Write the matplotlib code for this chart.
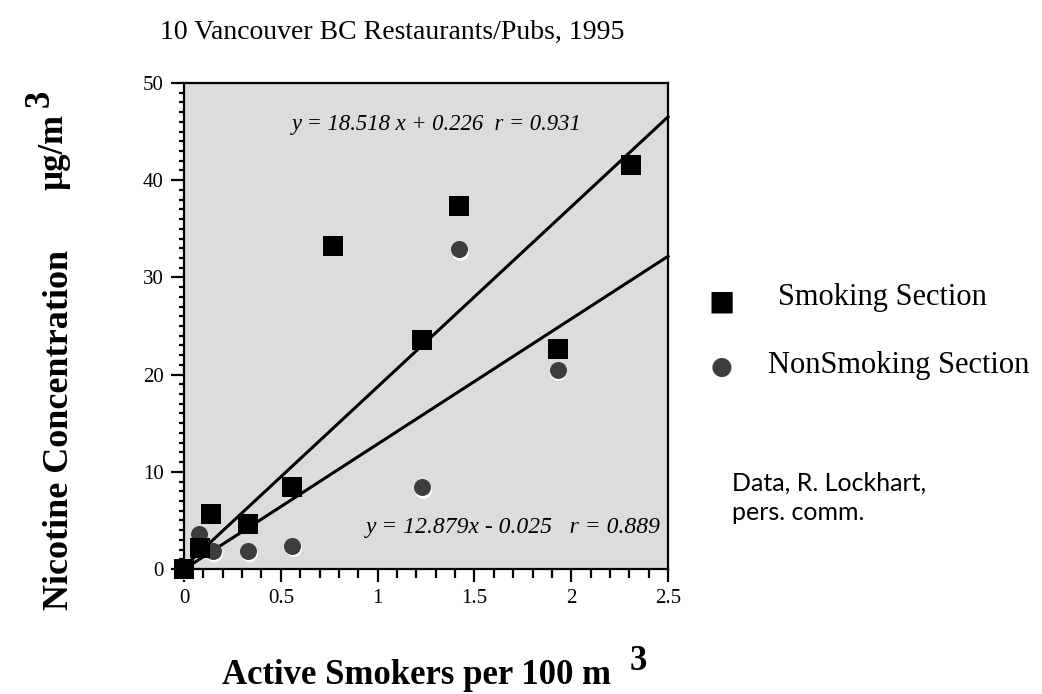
import matplotlib.pyplot as plt
from matplotlib.ticker import MultipleLocator

# data
smoke_x = [0.0, 0.08, 0.14, 0.33, 0.56, 0.77, 1.23, 1.42, 1.93, 2.31]
smoke_y = [0.0, 2.2, 5.7, 4.6, 8.4, 33.2, 23.6, 37.3, 22.6, 41.6]
nonsmoke_x = [0.0, 0.075, 0.15, 0.33, 0.56, 1.23, 1.42, 1.93]
nonsmoke_y = [0.0, 3.6, 1.9, 1.9, 2.4, 8.4, 32.9, 20.5]

# regression lines as printed on the chart
smoke_fit = (18.518, 0.226)
nonsmoke_fit = (12.879, -0.025)
fit_x = [0.0, 2.5]

serif = "Liberation Serif"

fig = plt.figure(figsize=(10.42, 6.94), dpi=100)
ax = fig.add_axes([0.1766, 0.1801, 0.4645, 0.7003])
ax.set_facecolor("#dcdcdc")

for slope, icpt in (smoke_fit, nonsmoke_fit):
    ax.plot(fit_x, [slope * x + icpt for x in fit_x], color="black", linewidth=2.2,
            zorder=2, clip_on=False)

# nonsmoking: dark grey ball with a light rim on the lower right
ax.scatter([x + 0.004 for x in nonsmoke_x], [y - 0.25 for y in nonsmoke_y], s=150,
           color="white", zorder=3, linewidths=0, clip_on=False)
ax.scatter(nonsmoke_x, nonsmoke_y, s=150, color="#3d3d3d", zorder=4, linewidths=0,
           clip_on=False)
ax.scatter(smoke_x, smoke_y, s=190, marker="s", color="black", zorder=5, linewidths=0,
           clip_on=False)

ax.set_xlim(0, 2.5)
ax.set_ylim(0, 50)
ax.xaxis.set_major_locator(MultipleLocator(0.5))
ax.xaxis.set_minor_locator(MultipleLocator(0.1))
ax.yaxis.set_major_locator(MultipleLocator(10))
ax.yaxis.set_minor_locator(MultipleLocator(1))
ax.set_xticks([0, 0.5, 1, 1.5, 2, 2.5])
ax.set_xticklabels(["0", "0.5", "1", "1.5", "2", "2.5"])
ax.tick_params(axis="both", which="major", direction="out", length=9.5, width=1.6,
               labelsize=15, pad=5)
ax.tick_params(axis="x", which="minor", direction="out", length=6.5, width=1.6)
ax.tick_params(axis="y", which="minor", direction="out", length=3.8, width=1.6)
for lbl in ax.get_xticklabels() + ax.get_yticklabels():
    lbl.set_family(serif)
for sp in ax.spines.values():
    sp.set_linewidth(1.6)

ax.text(0.523, 0.915, "y = 18.518 x + 0.226  r = 0.931", transform=ax.transAxes,
        ha="center", va="center", fontsize=16.3, style="italic", family=serif)
ax.text(0.985, 0.085, "y = 12.879x - 0.025   r = 0.889", transform=ax.transAxes,
        ha="right", va="center", fontsize=17, style="italic", family=serif)

fig.text(160 / 1042, 1 - 32 / 694, "10 Vancouver BC Restaurants/Pubs, 1995",
         ha="left", va="center", fontsize=20, family=serif)

# y label with raised exponent
fig.text(60 / 1042, 1 - 430 / 694, "Nicotine Concentration", rotation=90,
         ha="center", va="center", fontsize=26, fontweight="bold", family=serif)
fig.text(54 / 1042, 1 - 152 / 694, "\u00b5g/m", rotation=90,
         ha="center", va="center", fontsize=25, fontweight="bold", family=serif)
fig.text(40 / 1042, 1 - 98 / 694, "3", rotation=90,
         ha="center", va="center", fontsize=25, fontweight="bold", family=serif)

# x label with raised exponent
fig.text(416 / 1042, 1 - 676 / 694, "Active Smokers per 100 m",
         ha="center", va="center", fontsize=25, fontweight="bold", family=serif)
fig.text(638 / 1042, 1 - 661 / 694, "3",
         ha="center", va="center", fontsize=25, fontweight="bold", family=serif)

# legend drawn by hand
fig.text(722 / 1042, 1 - 302 / 694, "\u25a0", ha="center", va="center", fontsize=20,
         color="black", family="DejaVu Sans")
fig.text(778 / 1042, 1 - 298 / 694, "Smoking Section", ha="left", va="center",
         fontsize=22, family=serif)
fig.text(722 / 1042, 1 - 367 / 694, "\u25cf", ha="center", va="center", fontsize=18,
         color="#3d3d3d", family="DejaVu Sans")
fig.text(768 / 1042, 1 - 365 / 694, "NonSmoking Section", ha="left", va="center",
         fontsize=22, family=serif)

fig.text(732 / 1042, 1 - 498 / 694, "Data, R. Lockhart,\npers. comm.", ha="left",
         va="center", fontsize=18, family="Lato", linespacing=1.35)

fig.savefig("out.png", dpi=100)
